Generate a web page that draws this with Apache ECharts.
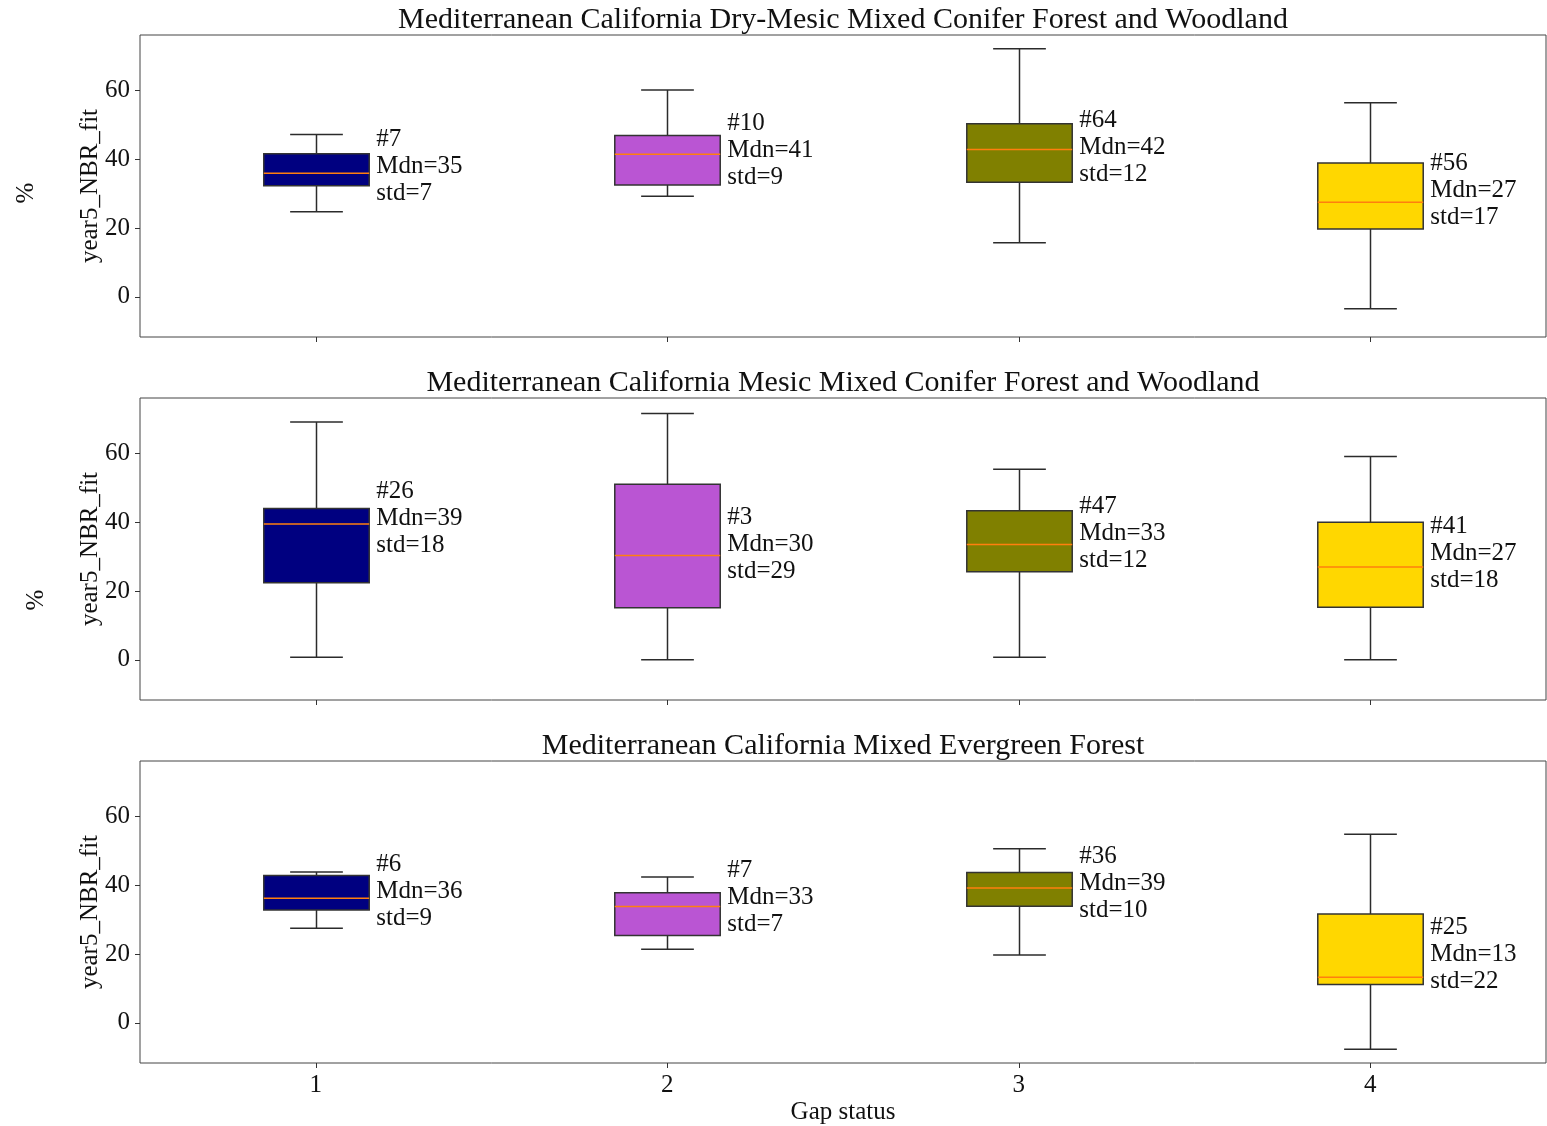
<!DOCTYPE html>
<html><head><meta charset="utf-8">
<script src="https://cdn.jsdelivr.net/npm/echarts@6/dist/echarts.min.js"></script>
<style>html,body{margin:0;padding:0;background:#fff}#c{width:1547px;height:1126px}</style>
</head><body><div id="c"></div>
<script>
const categories = ['1', '2', '3', '4'];
const panelTitles = [
  'Mediterranean California Dry-Mesic Mixed Conifer Forest and Woodland',
  'Mediterranean California Mesic Mixed Conifer Forest and Woodland',
  'Mediterranean California Mixed Evergreen Forest'
];
const yTicks = [0, 20, 40, 60];
const yMin = -11.7, yMax = 76.1;
const boxColors = ['#000080', '#BA55D3', '#808000', '#FFD700'];
const yName = 'year5_NBR_fit';
const xName = 'Gap status';

// Panel 1
const p1Low  = [24.7, 29.2, 15.7, -3.5];
const p1Q1   = [32.3, 32.5, 33.3, 19.7];
const p1Med  = [35.9, 41.4, 42.8, 27.5];
const p1Q3   = [41.6, 46.9, 50.3, 38.9];
const p1High = [47.2, 60.1, 72.1, 56.4];
const p1Mean = [38.5, 43.1, 44.1, 31.6];
const p1Count = [7, 10, 64, 56];
const p1Mdn   = [35, 41, 42, 27];
const p1Std   = [7, 9, 12, 17];
// Panel 2
const p2Low  = [0.7, 0.0, 0.7, 0.0];
const p2Q1   = [22.4, 15.1, 25.6, 15.3];
const p2Med  = [39.5, 30.3, 33.5, 27.0];
const p2Q3   = [44.0, 51.0, 43.3, 40.0];
const p2High = [69.1, 71.6, 55.4, 59.1];
const p2Mean = [41.6, 34.2, 37.3, 31.5];
const p2Count = [26, 3, 47, 41];
const p2Mdn   = [39, 30, 33, 27];
const p2Std   = [18, 29, 12, 18];
// Panel 3
const p3Low  = [27.5, 21.4, 19.7, -7.7];
const p3Q1   = [32.8, 25.4, 33.9, 11.1];
const p3Med  = [36.2, 33.8, 39.2, 13.2];
const p3Q3   = [42.8, 37.8, 43.7, 31.6];
const p3High = [43.8, 42.4, 50.6, 54.8];
const p3Mean = [38.9, 37.0, 41.2, 20.5];
const p3Count = [6, 7, 36, 25];
const p3Mdn   = [36, 33, 39, 13];
const p3Std   = [9, 7, 10, 22];

const panels = [
  [p1Low, p1Q1, p1Med, p1Q3, p1High, p1Mean, p1Count, p1Mdn, p1Std],
  [p2Low, p2Q1, p2Med, p2Q3, p2High, p2Mean, p2Count, p2Mdn, p2Std],
  [p3Low, p3Q1, p3Med, p3Q3, p3High, p3Mean, p3Count, p3Mdn, p3Std]
];

const FONT = '"Liberation Serif", "Times New Roman", serif';
const gridTops = [35, 398, 761];
const gridH = 302;
const gridLeft = 140;
const gridW = 1406;

function renderItem(params, api) {
  const xi = api.value(0);
  const lo = api.coord([xi, api.value(1)]);
  const q1 = api.coord([xi, api.value(2)]);
  const md = api.coord([xi, api.value(3)]);
  const q3 = api.coord([xi, api.value(4)]);
  const hi = api.coord([xi, api.value(5)]);
  const mn = api.coord([xi, api.value(6)]);
  const band = api.size([1, 0])[0];
  const bw = band * 0.3, cw = band * 0.15;
  const cx = Math.round(lo[0]) + 0.5;
  const lineStyle = { stroke: '#2b2b2b', lineWidth: 1.5 };
  const label = '#' + api.value(7) + '\nMdn=' + api.value(8) + '\nstd=' + api.value(9);
  return {
    type: 'group',
    children: [
      { type: 'line', shape: { x1: cx, y1: q3[1], x2: cx, y2: hi[1] }, style: lineStyle },
      { type: 'line', shape: { x1: cx, y1: q1[1], x2: cx, y2: lo[1] }, style: lineStyle },
      { type: 'line', shape: { x1: cx - cw / 2, y1: hi[1], x2: cx + cw / 2, y2: hi[1] }, style: lineStyle },
      { type: 'line', shape: { x1: cx - cw / 2, y1: lo[1], x2: cx + cw / 2, y2: lo[1] }, style: lineStyle },
      { type: 'rect', shape: { x: cx - bw / 2, y: q3[1], width: bw, height: q1[1] - q3[1] },
        style: { fill: boxColors[xi], stroke: '#333', lineWidth: 1.5 } },
      { type: 'line', shape: { x1: cx - bw / 2, y1: md[1], x2: cx + bw / 2, y2: md[1] },
        style: { stroke: '#ff7f0e', lineWidth: 1.5 } },
      { type: 'text', x: cx + bw / 2 + 7, y: mn[1] + 2,
        style: { text: label, fill: '#111', fontSize: 25, fontFamily: FONT, lineHeight: 27,
                 align: 'left', verticalAlign: 'middle' } }
    ]
  };
}

const grids = [], xAxes = [], yAxes = [], series = [], graphics = [];
panels.forEach((p, g) => {
  grids.push({ left: gridLeft, top: gridTops[g], width: gridW, height: gridH, show: true,
    borderColor: '#444', borderWidth: 1, backgroundColor: 'transparent', containLabel: false });
  xAxes.push({ type: 'category', gridIndex: g, data: categories, boundaryGap: true, position: 'bottom',
    axisLine: { show: false, onZero: false },
    axisTick: { show: true, alignWithLabel: true, length: 5, lineStyle: { color: '#333' } },
    axisLabel: { show: g === 2, fontSize: 25, fontFamily: FONT, color: '#111', margin: 10 },
    splitLine: { show: false } });
  yAxes.push({ type: 'value', gridIndex: g, min: yMin, max: yMax,
    name: yName, nameLocation: 'middle', nameGap: 37, nameMoveOverlap: false,
    nameTextStyle: { fontSize: 25, fontFamily: FONT, color: '#111' },
    axisLine: { show: false, onZero: false },
    axisTick: { show: true, length: 5, customValues: yTicks, lineStyle: { color: '#333' } },
    axisLabel: { fontSize: 25, fontFamily: FONT, color: '#111', margin: 10, customValues: yTicks,
                 padding: [4, 0, 0, 0] },
    splitLine: { show: false } });
  const data = categories.map((c, i) => [i, p[0][i], p[1][i], p[2][i], p[3][i], p[4][i], p[5][i], p[6][i], p[7][i], p[8][i]]);
  series.push({ type: 'custom', xAxisIndex: g, yAxisIndex: g, renderItem, clip: false,
    encode: { x: 0, y: [1, 5] }, data, silent: true, animation: false });
  graphics.push({ type: 'text', x: gridLeft + gridW / 2, y: gridTops[g] - 15,
    style: { text: panelTitles[g], fontSize: 30, fontFamily: FONT, fill: '#111', align: 'center', verticalAlign: 'middle' } });
});
graphics.push({ type: 'text', x: 26, y: 193, rotation: Math.PI / 2,
  style: { text: '%', fontSize: 25, fontFamily: FONT, fill: '#111', align: 'center', verticalAlign: 'middle' } });
graphics.push({ type: 'text', x: 36, y: 600, rotation: Math.PI / 2,
  style: { text: '%', fontSize: 25, fontFamily: FONT, fill: '#111', align: 'center', verticalAlign: 'middle' } });
graphics.push({ type: 'text', x: gridLeft + gridW / 2, y: 1112,
  style: { text: xName, fontSize: 25, fontFamily: FONT, fill: '#111', align: 'center', verticalAlign: 'middle' } });

const chart = echarts.init(document.getElementById('c'), null, { renderer: 'canvas' });
chart.setOption({
  animation: false,
  backgroundColor: '#fff',
  grid: grids, xAxis: xAxes, yAxis: yAxes, series, graphic: graphics
});
</script></body></html>
